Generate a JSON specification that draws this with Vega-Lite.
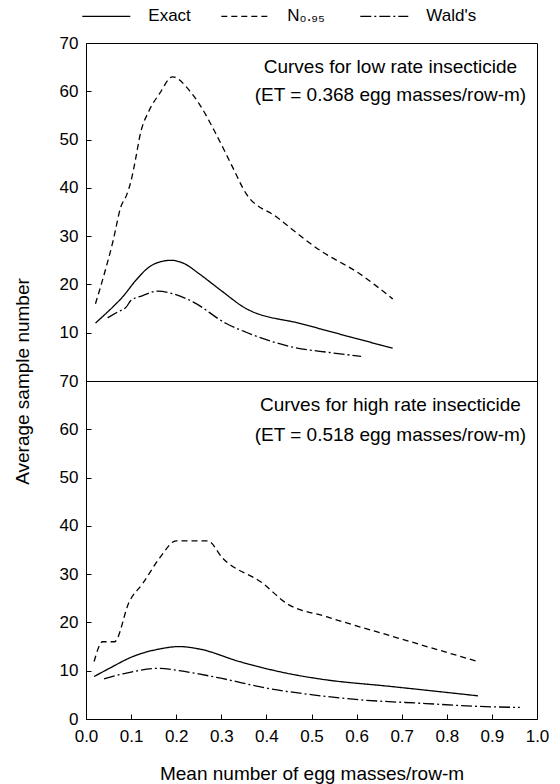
{
  "$schema": "https://vega.github.io/schema/vega-lite/v6.json",
  "padding": {"left": 12, "top": -9, "right": 5, "bottom": 3},
  "datasets": {
    "curves": [
      {"p": "low", "m": "Exact", "x": 0.021, "y": 12.0},
      {"p": "low", "m": "Exact", "x": 0.059, "y": 15.3},
      {"p": "low", "m": "Exact", "x": 0.081, "y": 17.4},
      {"p": "low", "m": "Exact", "x": 0.111, "y": 20.9},
      {"p": "low", "m": "Exact", "x": 0.14, "y": 23.6},
      {"p": "low", "m": "Exact", "x": 0.165, "y": 24.7},
      {"p": "low", "m": "Exact", "x": 0.189, "y": 25.0},
      {"p": "low", "m": "Exact", "x": 0.218, "y": 24.3},
      {"p": "low", "m": "Exact", "x": 0.251, "y": 22.2},
      {"p": "low", "m": "Exact", "x": 0.3, "y": 18.7},
      {"p": "low", "m": "Exact", "x": 0.355, "y": 15.0},
      {"p": "low", "m": "Exact", "x": 0.48, "y": 11.8},
      {"p": "low", "m": "Exact", "x": 0.607, "y": 8.6},
      {"p": "low", "m": "Exact", "x": 0.68, "y": 6.8},
      {"p": "low", "m": "N0.95", "x": 0.021, "y": 16.0},
      {"p": "low", "m": "N0.95", "x": 0.04, "y": 22.0},
      {"p": "low", "m": "N0.95", "x": 0.06, "y": 29.0},
      {"p": "low", "m": "N0.95", "x": 0.077, "y": 36.0},
      {"p": "low", "m": "N0.95", "x": 0.09, "y": 38.5},
      {"p": "low", "m": "N0.95", "x": 0.1, "y": 41.5},
      {"p": "low", "m": "N0.95", "x": 0.11, "y": 46.0},
      {"p": "low", "m": "N0.95", "x": 0.12, "y": 51.0},
      {"p": "low", "m": "N0.95", "x": 0.14, "y": 56.0},
      {"p": "low", "m": "N0.95", "x": 0.163, "y": 59.5},
      {"p": "low", "m": "N0.95", "x": 0.192, "y": 63.0},
      {"p": "low", "m": "N0.95", "x": 0.229, "y": 60.2},
      {"p": "low", "m": "N0.95", "x": 0.251, "y": 57.4},
      {"p": "low", "m": "N0.95", "x": 0.288, "y": 51.2},
      {"p": "low", "m": "N0.95", "x": 0.325, "y": 44.3},
      {"p": "low", "m": "N0.95", "x": 0.355, "y": 38.8},
      {"p": "low", "m": "N0.95", "x": 0.422, "y": 34.0},
      {"p": "low", "m": "N0.95", "x": 0.518, "y": 27.1},
      {"p": "low", "m": "N0.95", "x": 0.607, "y": 22.2},
      {"p": "low", "m": "N0.95", "x": 0.68, "y": 17.0},
      {"p": "low", "m": "Wald's", "x": 0.048, "y": 13.1},
      {"p": "low", "m": "Wald's", "x": 0.07, "y": 14.3},
      {"p": "low", "m": "Wald's", "x": 0.089, "y": 15.3},
      {"p": "low", "m": "Wald's", "x": 0.1, "y": 16.7},
      {"p": "low", "m": "Wald's", "x": 0.126, "y": 17.7},
      {"p": "low", "m": "Wald's", "x": 0.159, "y": 18.6},
      {"p": "low", "m": "Wald's", "x": 0.192, "y": 18.1},
      {"p": "low", "m": "Wald's", "x": 0.237, "y": 16.4},
      {"p": "low", "m": "Wald's", "x": 0.311, "y": 11.9},
      {"p": "low", "m": "Wald's", "x": 0.355, "y": 10.1},
      {"p": "low", "m": "Wald's", "x": 0.459, "y": 7.0},
      {"p": "low", "m": "Wald's", "x": 0.54, "y": 5.9},
      {"p": "low", "m": "Wald's", "x": 0.61, "y": 5.1},
      {"p": "high", "m": "Exact", "x": 0.018, "y": 8.8},
      {"p": "high", "m": "Exact", "x": 0.052, "y": 10.5},
      {"p": "high", "m": "Exact", "x": 0.103, "y": 12.9},
      {"p": "high", "m": "Exact", "x": 0.163, "y": 14.5},
      {"p": "high", "m": "Exact", "x": 0.207, "y": 15.0},
      {"p": "high", "m": "Exact", "x": 0.251, "y": 14.5},
      {"p": "high", "m": "Exact", "x": 0.34, "y": 11.9},
      {"p": "high", "m": "Exact", "x": 0.444, "y": 9.5},
      {"p": "high", "m": "Exact", "x": 0.518, "y": 8.3},
      {"p": "high", "m": "Exact", "x": 0.68, "y": 6.7},
      {"p": "high", "m": "Exact", "x": 0.869, "y": 4.8},
      {"p": "high", "m": "N0.95", "x": 0.018, "y": 11.9},
      {"p": "high", "m": "N0.95", "x": 0.037, "y": 16.0},
      {"p": "high", "m": "N0.95", "x": 0.063, "y": 16.0},
      {"p": "high", "m": "N0.95", "x": 0.096, "y": 24.3},
      {"p": "high", "m": "N0.95", "x": 0.126, "y": 28.1},
      {"p": "high", "m": "N0.95", "x": 0.163, "y": 33.3},
      {"p": "high", "m": "N0.95", "x": 0.2, "y": 36.9},
      {"p": "high", "m": "N0.95", "x": 0.27, "y": 36.9},
      {"p": "high", "m": "N0.95", "x": 0.303, "y": 33.3},
      {"p": "high", "m": "N0.95", "x": 0.392, "y": 28.1},
      {"p": "high", "m": "N0.95", "x": 0.444, "y": 24.0},
      {"p": "high", "m": "N0.95", "x": 0.533, "y": 21.2},
      {"p": "high", "m": "N0.95", "x": 0.68, "y": 17.1},
      {"p": "high", "m": "N0.95", "x": 0.869, "y": 11.9},
      {"p": "high", "m": "Wald's", "x": 0.04, "y": 8.3},
      {"p": "high", "m": "Wald's", "x": 0.089, "y": 9.5},
      {"p": "high", "m": "Wald's", "x": 0.163, "y": 10.5},
      {"p": "high", "m": "Wald's", "x": 0.207, "y": 10.0},
      {"p": "high", "m": "Wald's", "x": 0.296, "y": 8.5},
      {"p": "high", "m": "Wald's", "x": 0.4, "y": 6.4},
      {"p": "high", "m": "Wald's", "x": 0.503, "y": 5.0},
      {"p": "high", "m": "Wald's", "x": 0.592, "y": 4.1},
      {"p": "high", "m": "Wald's", "x": 0.754, "y": 3.2},
      {"p": "high", "m": "Wald's", "x": 0.873, "y": 2.6},
      {"p": "high", "m": "Wald's", "x": 0.962, "y": 2.4}
    ],
    "notes": [
      {"p": "low", "t": "Curves for low rate insecticide", "x": 0.675, "y": 65.0},
      {"p": "low", "t": "(ET = 0.368 egg masses/row-m)", "x": 0.675, "y": 59.2},
      {"p": "high", "t": "Curves for high rate insecticide", "x": 0.675, "y": 65.0},
      {"p": "high", "t": "(ET = 0.518 egg masses/row-m)", "x": 0.675, "y": 58.8}
    ]
  },
  "spacing": 0,
  "bounds": "flush",
  "resolve": {"scale": {"strokeDash": "shared"}},
  "vconcat": [
    {
      "width": 451,
      "height": 338,
      "layer": [
        {
          "data": {"name": "curves"},
          "transform": [{"filter": "datum.p == 'low'"}],
          "mark": {"type": "line", "color": "black", "strokeWidth": 1.3, "interpolate": "monotone"},
          "encoding": {
            "x": {"field": "x", "type": "quantitative", "scale": {"domain": [0, 1]}, "axis": null},
            "y": {"field": "y", "type": "quantitative", "scale": {"domain": [0, 70]},
              "axis": {"title": null, "values": [0,5,10,15,20,25,30,35,40,45,50,55,60,65,70],
                "labelExpr": "datum.value % 10 == 0 && datum.value > 0 ? datum.label : ''"}},
            "strokeDash": {"field": "m", "type": "nominal",
              "scale": {"domain": ["Exact", "N0.95", "Wald's"], "range": [[1, 0], [6, 4], [11, 3, 2, 3]]},
              "legend": {"labelExpr": "datum.label == 'N0.95' ? 'N₀.₉₅\u00a0\u00a0\u00a0\u00a0\u00a0' : datum.label"}},
            "detail": {"field": "m"}
          }
        },
        {
          "data": {"name": "notes"},
          "transform": [{"filter": "datum.p == 'low'"}],
          "mark": {"type": "text", "align": "center", "baseline": "middle", "fontSize": 19, "font": "Liberation Sans", "color": "black"},
          "encoding": {
            "x": {"field": "x", "type": "quantitative"},
            "y": {"field": "y", "type": "quantitative"},
            "text": {"field": "t"}
          }
        }
      ]
    },
    {
      "width": 451,
      "height": 338,
      "layer": [
        {
          "data": {"name": "curves"},
          "transform": [{"filter": "datum.p == 'high'"}],
          "mark": {"type": "line", "color": "black", "strokeWidth": 1.3, "interpolate": "monotone"},
          "encoding": {
            "x": {"field": "x", "type": "quantitative", "scale": {"domain": [0, 1]},
              "axis": {"title": "Mean number of egg masses/row-m",
                "values": [0,0.05,0.1,0.15,0.2,0.25,0.3,0.35,0.4,0.45,0.5,0.55,0.6,0.65,0.7,0.75,0.8,0.85,0.9,0.95,1.0],
                "labelExpr": "abs(round(datum.value*100) % 10) < 0.5 ? format(datum.value, '.1f') : ''"}},
            "y": {"field": "y", "type": "quantitative", "scale": {"domain": [0, 70]},
              "axis": {"title": "Average sample number", "titleY": 0, "titleX": -64, "titleBaseline": "middle",
                "values": [0,5,10,15,20,25,30,35,40,45,50,55,60,65,70],
                "labelExpr": "datum.value % 10 == 0 ? datum.label : ''"}},
            "strokeDash": {"field": "m", "type": "nominal",
              "scale": {"domain": ["Exact", "N0.95", "Wald's"], "range": [[1, 0], [6, 4], [11, 3, 2, 3]]},
              "legend": {"labelExpr": "datum.label == 'N0.95' ? 'N₀.₉₅\u00a0\u00a0\u00a0\u00a0\u00a0' : datum.label"}},
            "detail": {"field": "m"}
          }
        },
        {
          "data": {"name": "notes"},
          "transform": [{"filter": "datum.p == 'high'"}],
          "mark": {"type": "text", "align": "center", "baseline": "middle", "fontSize": 19, "font": "Liberation Sans", "color": "black"},
          "encoding": {
            "x": {"field": "x", "type": "quantitative"},
            "y": {"field": "y", "type": "quantitative"},
            "text": {"field": "t"}
          }
        }
      ]
    }
  ],
  "config": {
    "font": "Liberation Sans",
    "view": {"stroke": "black", "strokeWidth": 1},
    "axis": {
      "grid": false, "domain": false,
      "tickColor": "black", "tickSize": -5, "tickWidth": 1,
      "labelFont": "Liberation Sans", "labelFontSize": 17, "labelColor": "black", "labelPadding": 13,
      "titleFont": "Liberation Sans", "titleFontSize": 19, "titleFontWeight": "normal", "titleColor": "black"
    },
    "axisX": {"labelPadding": 14, "titlePadding": 20, "labelFlush": false},
    "legend": {
      "orient": "none", "legendX": -4.7, "legendY": -51.7, "direction": "horizontal", "title": null,
      "symbolType": "stroke", "symbolStrokeColor": "black", "symbolStrokeWidth": 1.3, "symbolSize": 2304,
      "labelFont": "Liberation Sans", "labelFontSize": 17, "labelColor": "black", "labelOffset": 17,
      "columnPadding": 20, "gridAlign": "all"
    }
  }
}
